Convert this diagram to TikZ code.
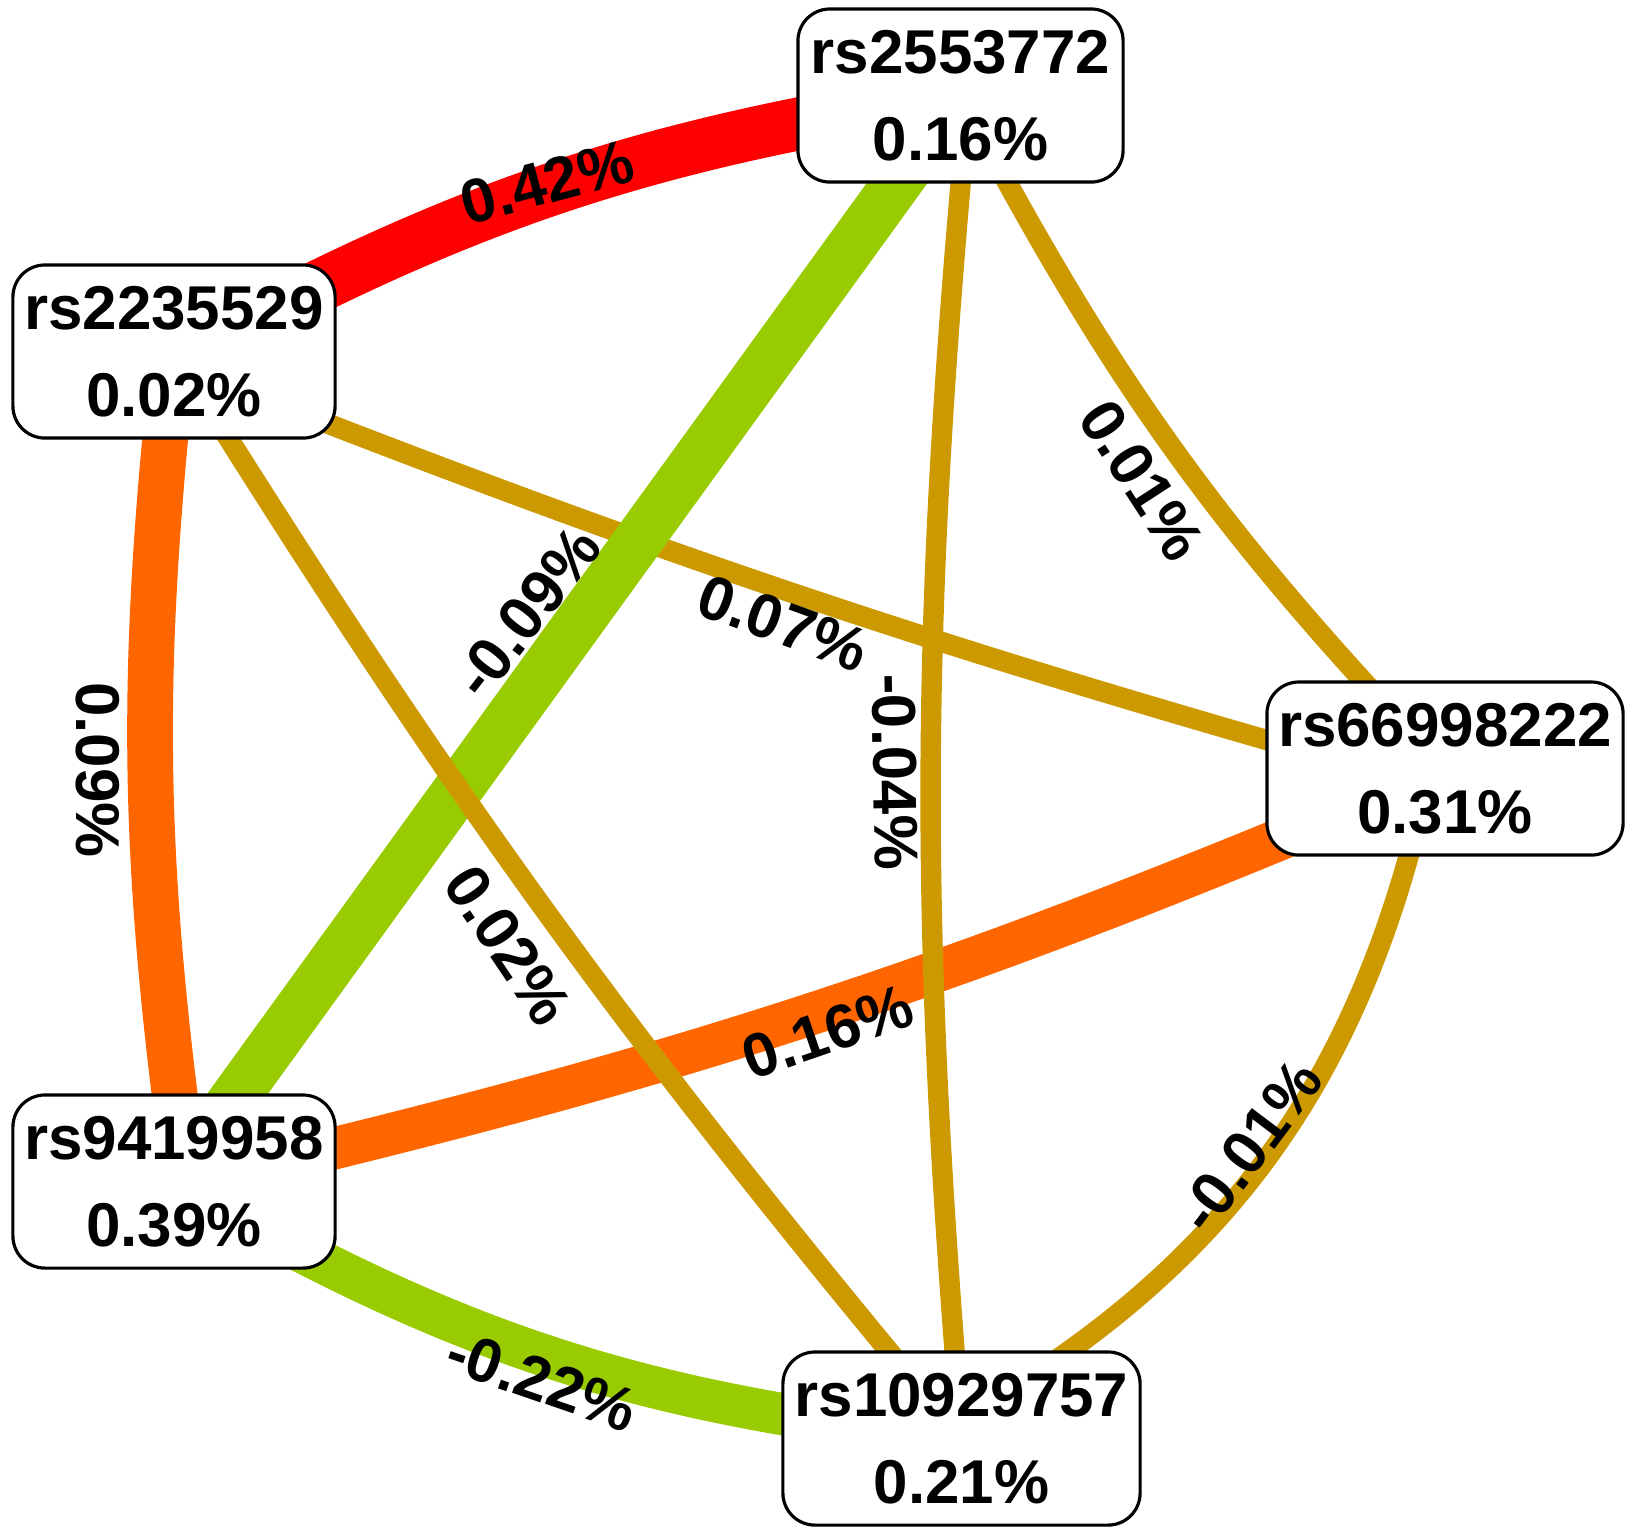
\documentclass[tikz,border=0pt]{standalone}
\usepackage{fontspec}
\setmainfont{Liberation Sans}
\usetikzlibrary{calc}
\pgfdeclarelayer{bg}
\pgfsetlayers{bg,main}
\definecolor{cred}{RGB}{255,0,0}
\definecolor{cgreen}{RGB}{153,204,0}
\definecolor{corange}{RGB}{255,102,0}
\definecolor{ctan}{RGB}{204,153,0}
\begin{document}
\begin{tikzpicture}[x=0.01cm,y=-0.01cm,
  snp/.style={draw=black,line width=0.9pt,rounded corners=0.32cm,fill=white,
    minimum height=1.73cm,align=center,inner sep=0pt,
    font=\bfseries\fontsize{17.6}{24.7}\selectfont},
  lbl/.style={font=\bfseries\fontsize{17.6}{21}\selectfont,inner sep=0pt},
  heavy/.style={line width=14pt},
  medium/.style={line width=12pt},
  light/.style={line width=5.8pt,draw=ctan}]
\useasboundingbox (0,0) rectangle (1634,1535);
\node[snp,minimum width=3.25cm] (A) at (960.5,95.5) {rs2553772\\0.16\%};
\node[snp,minimum width=3.22cm] (B) at (174,351.5) {rs2235529\\0.02\%};
\node[snp,minimum width=3.56cm] (C) at (1445,768.5) {rs66998222\\0.31\%};
\node[snp,minimum width=3.22cm] (D) at (174,1181.5) {rs9419958\\0.39\%};
\node[snp,minimum width=3.57cm] (E) at (961.5,1438.5) {rs10929757\\0.21\%};
\begin{pgfonlayer}{bg}
\draw[heavy,draw=cred,line width=15pt] ($(B.center)+(0,10)$) to[bend left=10] (A.center);
\draw[heavy,draw=corange,line width=13pt] (B.center) to[bend right=7] ($(D.center)+(12,0)$);
\draw[medium,draw=corange] ($(C.center)+(-20,10)$) to[bend left=5] ($(D.center)+(0,5)$);
\draw[medium,draw=cgreen] (D.center) to[bend right=12] (E.center);
\draw[light] ($(B.center)+(0,12)$) to[bend right=3] ($(C.center)+(0,22)$);
\draw[heavy,draw=cgreen] (A.center) -- (D.center);
\draw[light] (B.center) to[bend right=4] (E.center);
\draw[light] ($(A.center)+(8,0)$) to[bend right=5] (E.center);
\draw[light] (A.center) to[bend right=8] (C.center);
\draw[light] ($(C.center)+(-15,0)$) to[bend left=25] ($(E.center)+(-35,0)$);
\end{pgfonlayer}
\node[lbl,rotate=15] (lAB) at (547,182) {0.42\%};
\node[lbl,rotate=52] (lAD) at (527,612) {-0.09\%};
\node[lbl,rotate=-20] (lBC) at (783,623) {0.07\%};
\node[lbl,rotate=-89] (lAE) at (895,772) {-0.04\%};
\node[lbl,rotate=-57] (lAC) at (1142,480) {0.01\%};
\node[lbl,rotate=-56] (lBE) at (508,945) {0.02\%};
\node[lbl,rotate=19] (lCD) at (828,1032) {0.16\%};
\node[lbl,rotate=53] (lCE) at (1250,1146) {-0.01\%};
\node[lbl,rotate=-19] (lDE) at (542,1381) {-0.22\%};
\node[lbl,rotate=-90] (lBD) at (98,770) {0.09\%};
\end{tikzpicture}
\end{document}
